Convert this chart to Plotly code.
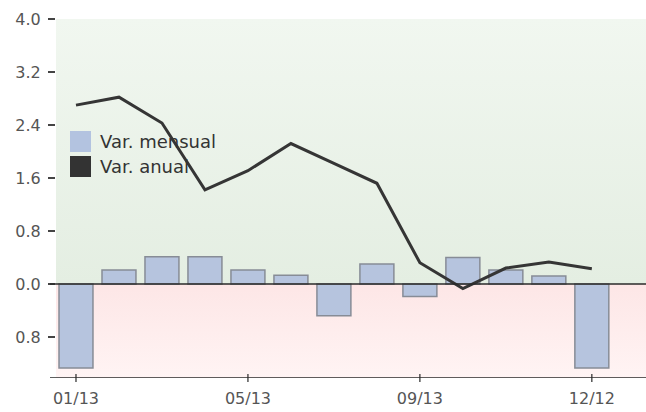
import plotly.graph_objects as go

# Monthly series (percent)
months = ["01/13", "02/13", "03/13", "04/13", "05/13", "06/13", "07/13",
          "08/13", "09/13", "10/13", "11/13", "12/13", "12/12"]
var_mensual = [-1.27, 0.21, 0.41, 0.41, 0.21, 0.13, -0.48, 0.30, -0.19, 0.40, 0.21, 0.12, -1.27]
var_anual = [2.70, 2.82, 2.43, 1.42, 1.71, 2.12, 1.82, 1.52, 0.32, -0.07, 0.24, 0.33, 0.23]

shown_labels = ["01/13", "05/13", "09/13", "12/12"]
y_ticks = [4.0, 3.2, 2.4, 1.6, 0.8, 0.0, -0.8]
y_tick_text = ["4.0", "3.2", "2.4", "1.6", "0.8", "0.0", "0.8"]

Y_MIN, Y_MAX = -1.42, 4.0
X_MIN, X_MAX = -0.465, 13.26

xs = list(range(len(months)))
tickvals = [months.index(m) for m in shown_labels]

W, H = 646, 412
L, R, T, B = 56, 0, 19, 34
pw, ph = W - L - R, H - T - B


def px(x):
    return (x - L) / pw


def py(y):
    return (H - B - y) / ph


FONT = "DejaVu Sans"

fig = go.Figure()

# shaded bands above / below zero (base subplot, drawn underneath)
fig.add_trace(go.Scatter(
    x=[X_MIN, X_MAX, X_MAX, X_MIN, X_MIN], y=[0, 0, Y_MAX, Y_MAX, 0],
    mode="none", fill="toself", hoverinfo="skip", showlegend=False,
    fillgradient=dict(type="vertical",
                      colorscale=[[0, "#e4eee2"], [1, "#f1f7f0"]]),
))
fig.add_trace(go.Scatter(
    x=[X_MIN, X_MAX, X_MAX, X_MIN, X_MIN], y=[Y_MIN, Y_MIN, 0, 0, Y_MIN],
    mode="none", fill="toself", hoverinfo="skip", showlegend=False,
    fillgradient=dict(type="vertical",
                      colorscale=[[0, "#fff4f4"], [1, "#fde6e6"]]),
))

# data on an overlaid subplot so it sits above the bands
fig.add_trace(go.Bar(
    x=xs, y=var_mensual, width=0.79, name="Var. mensual",
    marker=dict(color="#b6c4de", line=dict(color="#878c96", width=1.5)),
    showlegend=False, xaxis="x2", yaxis="y2",
))
fig.add_trace(go.Scatter(
    x=xs, y=var_anual, mode="lines", name="Var. anual",
    line=dict(color="#353535", width=3), showlegend=False,
    xaxis="x2", yaxis="y2",
))

shapes = []
# legend box
shapes.append(dict(type="rect", xref="paper", yref="paper",
                   x0=px(55), x1=px(245), y0=py(197), y1=py(120),
                   fillcolor="rgba(255,255,255,0.45)", line=dict(width=0),
                   layer="below"))
# zero line and bottom axis line
for yv in (0.0, Y_MIN):
    shapes.append(dict(type="line", xref="paper", yref="y",
                       x0=px(50), x1=1, y0=yv, y1=yv,
                       line=dict(color="#2a2a2a", width=1.5), layer="above"))
# crossing tick marks on the bottom axis
for tv in tickvals:
    shapes.append(dict(type="line", xref="x", yref="paper",
                       x0=tv, x1=tv, y0=-4 / ph, y1=4 / ph,
                       line=dict(color="#2a2a2a", width=1.2), layer="above"))
legend_items = [("Var. mensual", "#b3c3e0", 131), ("Var. anual", "#333333", 156)]
annotations = []
for label, color, top in legend_items:
    shapes.append(dict(type="rect", xref="paper", yref="paper",
                       x0=px(70), x1=px(91), y0=py(top + 21), y1=py(top),
                       fillcolor=color, line=dict(width=0), layer="above"))
    annotations.append(dict(xref="paper", yref="paper", x=px(98), y=py(top + 10.5),
                            text=label, showarrow=False, xanchor="left",
                            yanchor="middle",
                            font=dict(family=FONT, size=18, color="#333333")))

tick_font = dict(family=FONT, size=16, color="#555555")
fig.update_layout(
    width=W, height=H,
    margin=dict(l=L, r=R, t=T, b=B),
    paper_bgcolor="white", plot_bgcolor="white",
    shapes=shapes, annotations=annotations,
    xaxis=dict(range=[X_MIN, X_MAX], tickmode="array", tickvals=tickvals,
               ticktext=shown_labels, showgrid=False, zeroline=False,
               ticks="outside", ticklen=6, tickcolor="rgba(0,0,0,0)",
               tickfont=tick_font),
    yaxis=dict(range=[Y_MIN, Y_MAX], tickmode="array", tickvals=y_ticks,
               ticktext=y_tick_text, showgrid=False, zeroline=False,
               ticks="outside", ticklen=7, tickwidth=1.5, tickcolor="#444444",
               ticklabelstandoff=4, tickfont=tick_font),
    xaxis2=dict(range=[X_MIN, X_MAX], overlaying="x", visible=False),
    yaxis2=dict(range=[Y_MIN, Y_MAX], overlaying="y", visible=False),
)

fig.write_html("out.html")
